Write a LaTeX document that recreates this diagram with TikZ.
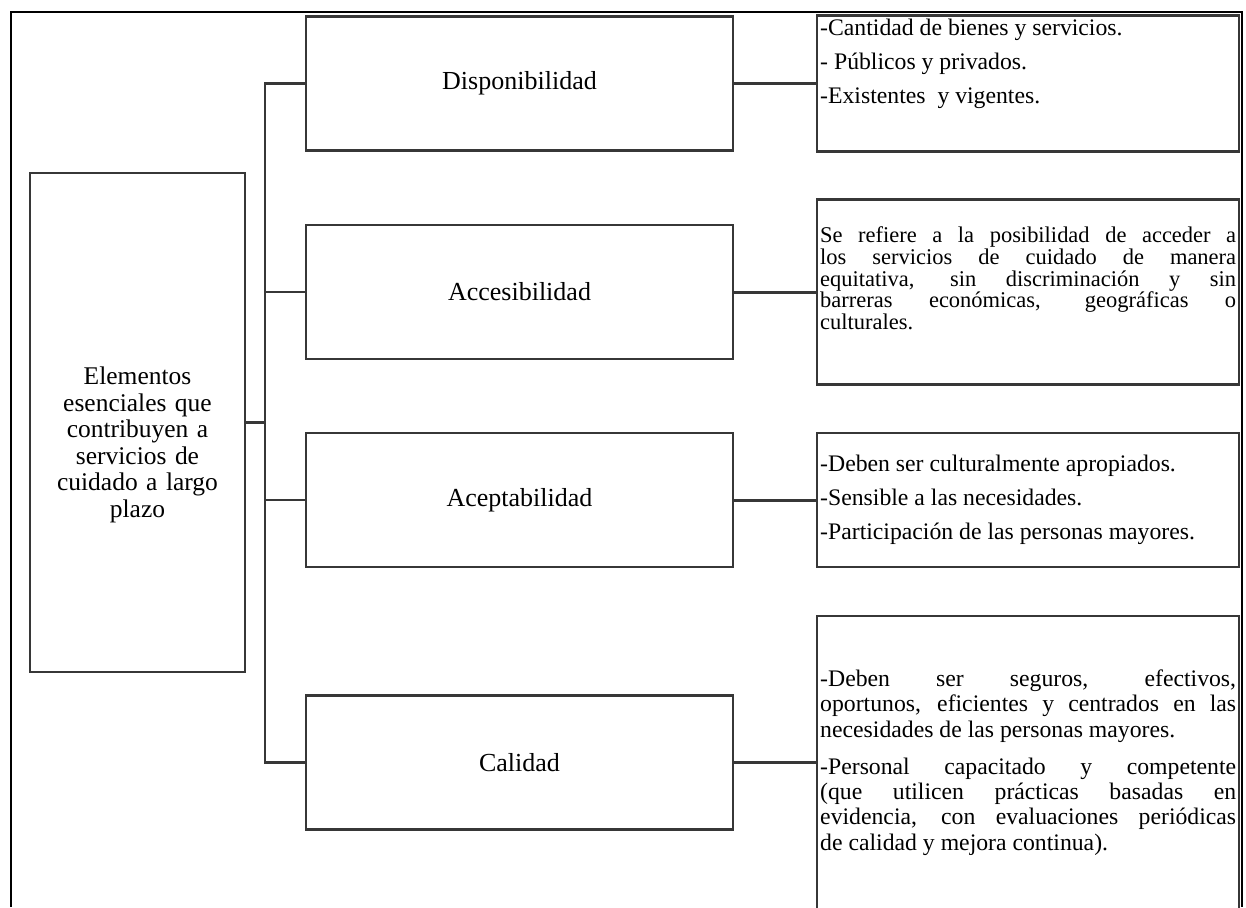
\documentclass[tikz,border=0pt]{standalone}
\usepackage{fontspec}
\setmainfont{Liberation Serif}
\usetikzlibrary{positioning}
\tolerance=10000
\hyphenpenalty=10000

\definecolor{boxline}{RGB}{55,55,55}
\tikzset{main box/.style={
    draw=boxline, line width=1.3pt,
    minimum width=4.3cm,
    minimum height=9.98cm,
    text width=4.1cm, inner sep=0.1cm,
    align=center,
    font=\fontsize{14.5}{15.1}\selectfont
  },
  item box/.style={
    draw=boxline, line width=1.3pt,
    minimum width=8.54cm,
    minimum height=2.68cm,
    font=\fontsize{14.8}{17}\selectfont
  },
  info box/.style={
    draw=boxline, line width=1.3pt,
    minimum width=8.44cm,
    text width=8.32cm,
    inner xsep=0.06cm, inner ysep=0.06cm,
    align=justify,
    font=\fontsize{13.5}{15}\selectfont
  },
  branch/.style={draw=boxline, line width=1.2pt},
  link/.style={draw=boxline, line width=1.7pt},
}

\begin{document}
\begin{tikzpicture}[x=0.02cm,y=-0.02cm]
  \useasboundingbox (0,0) rectangle (1246,907);

  % outer frame, open at the bottom
  \draw[line width=1pt] (11,907) -- (11,12) -- (1242,12) -- (1242,907);

  \node[main box] (elem) at (137.5,422.5)
    {\rule{0pt}{1.24cm}Elementos\\ esenciales que\\ contribuyen a\\ servicios de\\ cuidado a largo\\ plazo};

  \node[item box] (disp) at (519.5,83.5)  {Disponibilidad};
  \node[item box] (acce) at (519.5,292)   {Accesibilidad};
  \node[item box] (acep) at (519.5,500)   {Aceptabilidad};
  \node[item box] (cali) at (519.5,762.5) {Calidad};

  \node[info box, minimum height=2.72cm, right=1.64cm of disp] (disp-info)
    {-Cantidad de bienes y servicios.\\[0.15cm]
     - Públicos y privados.\\[0.15cm]
     -Existentes~ y vigentes.\rule[-0.88cm]{0pt}{0.88cm}};
  \node[info box, minimum height=3.7cm, right=1.64cm of acce,
        font=\fontsize{12.8}{12.4}\selectfont] (acce-info)
    {Se refiere a la posibilidad de acceder a\linebreak
     los servicios de cuidado de manera\linebreak
     equitativa, sin discriminación y sin\linebreak
     barreras económicas, geográficas o\linebreak
     culturales.\rule[-0.55cm]{0pt}{0.55cm}};
  \node[info box, minimum height=2.68cm, right=1.64cm of acep] (acep-info)
    {-Deben ser culturalmente apropiados.\\[0.15cm]
     -Sensible a las necesidades.\\[0.15cm]
     -Participación de las personas mayores.};
  \node[info box, minimum height=5.86cm, right=1.64cm of cali,
        font=\fontsize{13.5}{14.4}\selectfont] (cali-info)
    {-Deben ser seguros, efectivos,\linebreak
     oportunos, eficientes y centrados en las\linebreak
     necesidades de las personas mayores.\\[0.24cm]
     -Personal capacitado y competente\linebreak
     (que utilicen prácticas basadas en\linebreak
     evidencia, con evaluaciones periódicas\linebreak
     de calidad y mejora continua).};

  \coordinate (trunk) at (265,422.5);
  \draw[link, line width=2pt] (elem.east) -- (trunk);
  \draw[branch] (trunk) |- (disp.west);
  \draw[branch] (trunk) |- (acce.west);
  \draw[branch] (trunk) |- (acep.west);
  \draw[branch] (trunk) |- (cali.west);

  \draw[link] (disp.east) -- (disp-info.west);
  \draw[link] (acce.east) -- (acce-info.west);
  \draw[link] (acep.east) -- (acep-info.west);
  \draw[link] (cali.east) -- (cali-info.west);
\end{tikzpicture}
\end{document}
